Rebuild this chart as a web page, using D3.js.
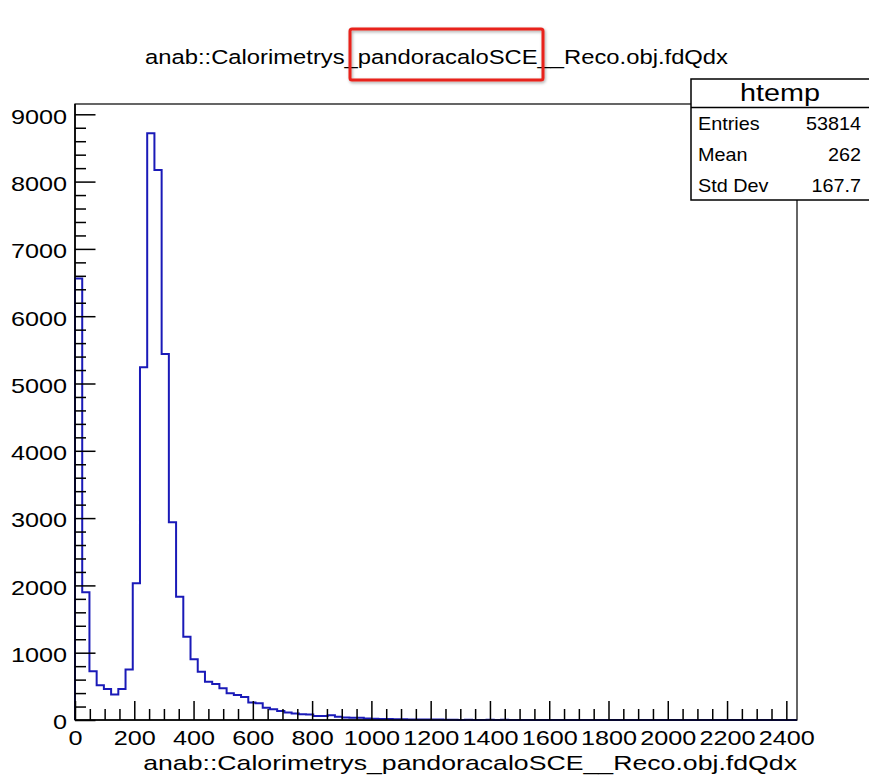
<!DOCTYPE html>
<html>
<head>
<meta charset="utf-8">
<script src="https://cdn.jsdelivr.net/npm/d3@7"></script>
<style>
  body { margin: 0; background: #fff; }
  svg { display: block; font-family: "Liberation Sans", Arial, Helvetica, sans-serif; }
</style>
</head>
<body>
<svg id="chart" width="869" height="775"></svg>
<script>
// htemp bin contents (100 bins)
const binCounts = [
    6560, 1900, 725, 515, 462, 378, 460, 750, 2031, 5241,
    8717, 8172, 5438, 2937, 1832, 1238, 901, 718, 569, 535,
    471, 397, 371, 340, 259, 250, 182, 160, 134, 110,
    95, 85, 80, 60, 60, 70, 48, 38, 35, 33,
    22, 18, 16, 14, 12, 10, 9, 8, 7, 6,
    6, 5, 4, 0, 3, 0, 0, 2, 0, 2,
    0, 0, 0, 0, 0, 0, 0, 0, 0, 0,
    0, 0, 0, 0, 0, 0, 0, 0, 0, 0,
    0, 0, 0, 0, 0, 0, 0, 0, 0, 0,
    0, 0, 0, 0, 0, 0, 0, 0, 0, 0
];
const xMax = 2436;   // upper edge of the histogram range
const yMax = 9153;   // 1.05 * peak

const xTickValues = [0, 200, 400, 600, 800, 1000, 1200, 1400, 1600, 1800, 2000, 2200, 2400];
const yTickValues = [0, 1000, 2000, 3000, 4000, 5000, 6000, 7000, 8000, 9000];

const titleText = "anab::Calorimetrys_pandoracaloSCE__Reco.obj.fdQdx";
const xAxisTitle = "anab::Calorimetrys_pandoracaloSCE__Reco.obj.fdQdx";

const statsName = "htemp";
const statsLabels = ["Entries", "Mean", "Std Dev"];
const statsValues = ["53814", "262", "167.7"];

// frame of the pad
const frame = {left: 75, right: 797, top: 104, bottom: 720};

const svg = d3.select('#chart');
svg.append('rect').attr('width', 869).attr('height', 775).attr('fill', '#fff');

const x = d3.scaleLinear().domain([0, xMax]).range([frame.left, frame.right]);
const y = d3.scaleLinear().domain([0, yMax]).range([frame.bottom, frame.top]);

// widen glyphs horizontally, the reference text is rendered wide
function stretch(sel, k) {
    sel.each(function () {
        const w = this.getComputedTextLength();
        d3.select(this).attr('textLength', w * k).attr('lengthAdjust', 'spacingAndGlyphs');
    });
}

// frame box
svg.append('rect')
    .attr('x', frame.left).attr('y', frame.top)
    .attr('width', frame.right - frame.left)
    .attr('height', frame.bottom - frame.top)
    .attr('fill', 'none')
    .attr('stroke', '#000')
    .attr('stroke-width', 1.2);

// histogram outline
const binWidth = xMax / binCounts.length;
const pts = [[0, 0]];
binCounts.forEach(function (c, i) {
    pts.push([i * binWidth, c]);
    pts.push([(i + 1) * binWidth, c]);
});
pts.push([xMax, 0]);

const line = d3.line()
    .x(d => x(d[0]))
    .y(d => y(d[1]));

svg.append('path')
    .datum(pts)
    .attr('d', line)
    .attr('fill', 'none')
    .attr('stroke', '#1a1ab8')
    .attr('stroke-width', 2);

// minor ticks
const xMinor = d3.range(0, xMax, 50).filter(v => v % 200 !== 0);
const yMinor = d3.range(0, yMax, 200).filter(v => v % 1000 !== 0);

svg.append('g')
    .attr('transform', 'translate(0,' + frame.bottom + ')')
    .call(d3.axisBottom(x).tickValues(xMinor).tickSizeInner(-11).tickSizeOuter(0).tickFormat(''))
    .call(g => g.select('.domain').remove())
    .selectAll('line').attr('stroke', '#000').attr('stroke-width', 1.5);

svg.append('g')
    .attr('transform', 'translate(' + frame.left + ',0)')
    .call(d3.axisLeft(y).tickValues(yMinor).tickSizeInner(-11).tickSizeOuter(0).tickFormat(''))
    .call(g => g.select('.domain').remove())
    .selectAll('line').attr('stroke', '#000').attr('stroke-width', 1.5);

// major ticks + labels
const xAxisG = svg.append('g')
    .attr('transform', 'translate(0,' + frame.bottom + ')')
    .call(d3.axisBottom(x).tickValues(xTickValues).tickSizeInner(-19).tickSizeOuter(0).tickPadding(10).tickFormat(d3.format('d')));
xAxisG.select('.domain').remove();
xAxisG.attr('font-size', 21).attr('font-family', null);
xAxisG.selectAll('line').attr('stroke', '#000').attr('stroke-width', 1.5);
xAxisG.selectAll('text').attr('fill', '#000').call(stretch, 1.2);

const yAxisG = svg.append('g')
    .attr('transform', 'translate(' + frame.left + ',0)')
    .call(d3.axisLeft(y).tickValues(yTickValues).tickSizeInner(-20.5).tickSizeOuter(0).tickPadding(8).tickFormat(d3.format('d')));
yAxisG.select('.domain').remove();
yAxisG.attr('font-size', 21).attr('font-family', null);
yAxisG.selectAll('line').attr('stroke', '#000').attr('stroke-width', 1.5);
yAxisG.selectAll('text').attr('fill', '#000').attr('dy', '0.42em').call(stretch, 1.2);

// axis lines on top of the histogram
svg.append('line')
    .attr('x1', frame.left).attr('x2', frame.right)
    .attr('y1', frame.bottom).attr('y2', frame.bottom)
    .attr('stroke', '#000').attr('stroke-width', 1.6);
svg.append('line')
    .attr('x1', frame.left).attr('x2', frame.left)
    .attr('y1', frame.top).attr('y2', frame.bottom)
    .attr('stroke', '#000').attr('stroke-width', 1.6);

// x axis title
svg.append('text')
    .attr('x', frame.right).attr('y', 770)
    .attr('text-anchor', 'end')
    .attr('font-size', 21)
    .text(xAxisTitle)
    .call(stretch, 1.27);

// histogram title
svg.append('text')
    .attr('x', 436.5).attr('y', 64)
    .attr('text-anchor', 'middle')
    .attr('font-size', 20.5)
    .text(titleText)
    .call(stretch, 1.16);

// red highlight box round "pandoracaloSCE"
const defs = svg.append('defs');
const shadow = defs.append('filter').attr('id', 'shadow')
    .attr('x', '-10%').attr('y', '-20%').attr('width', '120%').attr('height', '140%');
shadow.append('feDropShadow')
    .attr('dx', 1).attr('dy', 1.5).attr('stdDeviation', 1.5)
    .attr('flood-color', '#000').attr('flood-opacity', 0.35);

svg.append('rect')
    .attr('x', 350).attr('y', 29)
    .attr('width', 193).attr('height', 51)
    .attr('rx', 2)
    .attr('fill', 'none')
    .attr('stroke', '#e8221c')
    .attr('stroke-width', 3)
    .attr('filter', 'url(#shadow)');

// stats box
const stats = svg.append('g');
stats.append('rect')
    .attr('x', 691).attr('y', 79)
    .attr('width', 190).attr('height', 121)
    .attr('fill', '#fff')
    .attr('stroke', '#000')
    .attr('stroke-width', 1.5);
stats.append('line')
    .attr('x1', 691).attr('x2', 869)
    .attr('y1', 107.5).attr('y2', 107.5)
    .attr('stroke', '#000').attr('stroke-width', 1.5);
stats.append('text')
    .attr('x', 780).attr('y', 101)
    .attr('text-anchor', 'middle')
    .attr('font-size', 23)
    .text(statsName)
    .call(stretch, 1.25);

const rowY = d3.scalePoint().domain(statsLabels).range([130, 192]);
stats.selectAll('text.lab')
    .data(statsLabels)
    .enter().append('text')
    .attr('class', 'lab')
    .attr('x', 698)
    .attr('y', d => rowY(d))
    .attr('font-size', 18.5)
    .text(d => d)
    .call(stretch, 1.07);
stats.selectAll('text.val')
    .data(statsValues)
    .enter().append('text')
    .attr('class', 'val')
    .attr('x', 861)
    .attr('y', (d, i) => rowY(statsLabels[i]))
    .attr('text-anchor', 'end')
    .attr('font-size', 18.5)
    .text(d => d)
    .call(stretch, 1.07);
</script>
</body>
</html>
